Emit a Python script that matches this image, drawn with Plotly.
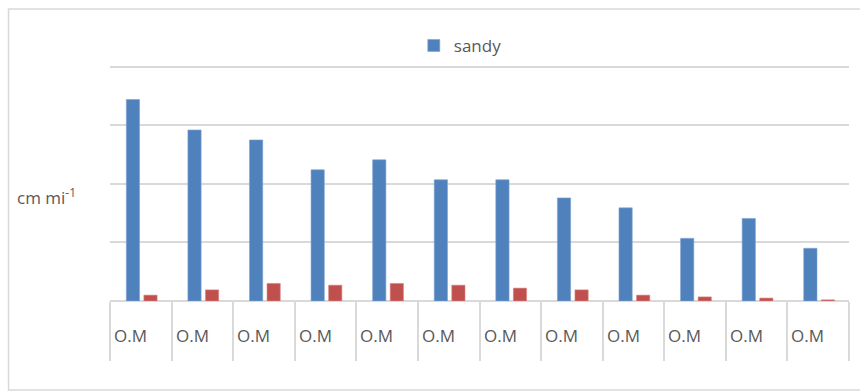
import plotly.graph_objects as go

# Categories and series values
categories = ["O.M"] * 12
sandy = [3.44, 2.92, 2.75, 2.24, 2.41, 2.07, 2.07, 1.76, 1.59, 1.07, 1.41, 0.90]
second = [0.10, 0.19, 0.30, 0.27, 0.30, 0.27, 0.22, 0.19, 0.10, 0.07, 0.05, 0.02]
y_axis_title = "cm mi<sup>-1</sup>"

positions = list(range(len(categories)))
boundaries = [p - 0.5 for p in positions] + [positions[-1] + 0.5]

TEXT = "#595959"
GRID = "#d9d9d9"
FONT = "Open Sans"

fig = go.Figure()
fig.add_trace(go.Bar(
    x=positions, y=sandy, name="sandy",
    width=0.215, offset=-0.235,
    marker=dict(color="#4f81bd", line=dict(color="#7ea2d0", width=0.6)),
))
fig.add_trace(go.Bar(
    x=positions, y=second, name="series 2",
    width=0.215, offset=0.05, showlegend=False,
    marker=dict(color="#c0504d", line=dict(color="#d98684", width=0.6)),
))

# category labels, left-aligned inside each cell below the baseline
annotations = [
    dict(x=p - 0.5, xref="x", xanchor="left", xshift=2,
         y=-0.142, yref="paper", yanchor="middle",
         text=c, showarrow=False, font=dict(family=FONT, size=17, color=TEXT))
    for p, c in zip(positions, categories)
]
annotations.append(dict(
    x=-0.129, xref="paper", xanchor="left",
    y=0.425, yref="paper", yanchor="middle",
    text=y_axis_title, showarrow=False,
    font=dict(family=FONT, size=17, color=TEXT),
))

fig.update_layout(
    width=860, height=391,
    margin=dict(l=110, r=11, t=55, b=90),
    paper_bgcolor="white", plot_bgcolor="white",
    font=dict(family=FONT, size=17, color=TEXT),
    barmode="overlay",
    showlegend=True,
    legend=dict(orientation="h", x=0.474, xanchor="center",
                y=1.037, yanchor="middle",
                font=dict(family=FONT, size=17, color=TEXT),
                bgcolor="rgba(0,0,0,0)", itemwidth=30),
    xaxis=dict(range=[-0.5, len(categories) - 0.5],
               tickvals=boundaries, showticklabels=False,
               ticks="outside", ticklen=59, tickwidth=2, tickcolor=GRID,
               showgrid=False, zeroline=False, showline=False),
    yaxis=dict(range=[0, 4.2], dtick=1, tick0=0,
               showticklabels=False, ticks="",
               showgrid=True, gridcolor=GRID, gridwidth=2,
               zeroline=True, zerolinecolor=GRID, zerolinewidth=2,
               showline=False),
    annotations=annotations,
    shapes=[dict(type="rect", xref="paper", yref="paper",
                 x0=-0.1373, x1=1.03, y0=-0.3618, y1=1.187,
                 line=dict(color=GRID, width=1.5), layer="below")],
)

fig.write_html("out.html")
